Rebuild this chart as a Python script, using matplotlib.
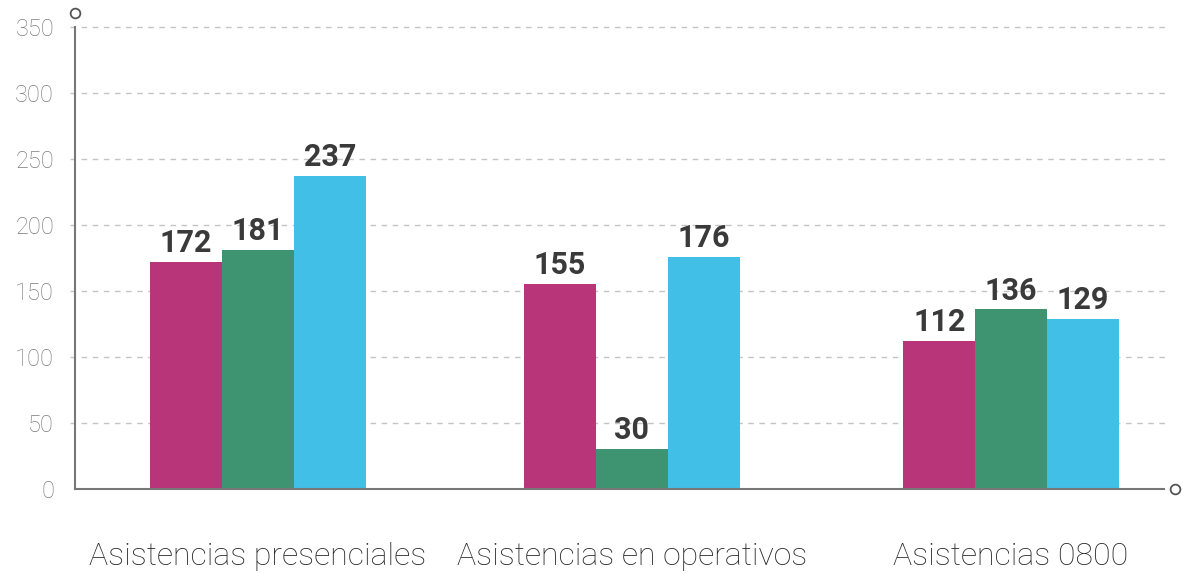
import matplotlib
matplotlib.use('Agg')
import matplotlib.pyplot as plt
import numpy as np

categorias = ['Asistencias presenciales', 'Asistencias en operativos', 'Asistencias 0800']
serie_a = [172, 155, 112]
serie_b = [181, 30, 136]
serie_c = [237, 176, 129]
colores = ['#B8357A', '#3E9470', '#42BFE6']
y_ticks = [0, 50, 100, 150, 200, 250, 300, 350]

plt.rcParams['font.family'] = ['Roboto', 'DejaVu Sans']

fig = plt.figure(figsize=(11.83, 5.73), dpi=100)
ax = fig.add_axes([75 / 1183, 84 / 573, (1164 - 75) / 1183, (489 - 27) / 573])

x = np.array([0, 0.993, 2.0])
ancho = 0.191
for k, (serie, color) in enumerate(zip([serie_a, serie_b, serie_c], colores)):
    pos = x + (k - 1) * ancho
    ax.bar(pos, serie, width=ancho, color=color, zorder=3)
    for p, v in zip(pos, serie):
        ax.text(p, v + 3, str(v), ha='center', va='bottom', fontsize=22,
                fontweight='bold', color='#3a3a3a', zorder=4)

ax.set_xlim(-0.486, 2.406)
ax.set_ylim(0, 350)
ax.set_yticks(y_ticks)
ax.set_yticklabels([str(t) for t in y_ticks], fontsize=17, color='#7c7c7c',
                   fontweight='light')
ax.tick_params(axis='y', length=0, pad=15)
ax.set_xticks(x)
ax.set_xticklabels(categorias, fontsize=23, color='#262626', fontweight='light')
ax.tick_params(axis='x', length=0, pad=38)

for t in y_ticks[1:]:
    ax.plot([-0.5, 2.42], [t, t], color='#c4c4c4', lw=1, ls=(0, (4, 4)),
            clip_on=False, zorder=1)

for s in ['top', 'right']:
    ax.spines[s].set_visible(False)
ax.spines['left'].set_color('#777777')
ax.spines['bottom'].set_color('#777777')
ax.spines['left'].set_linewidth(1.5)
ax.spines['bottom'].set_linewidth(1.5)
ax.spines['left'].set_zorder(5)
ax.spines['bottom'].set_zorder(5)

# circulitos al final de los ejes
ax.plot([-0.486], [360.5], marker='o', ms=7, mfc='white', mec='#555555',
        mew=1.3, clip_on=False, zorder=6)
ax.plot([2.435], [0], marker='o', ms=7, mfc='white', mec='#555555',
        mew=1.3, clip_on=False, zorder=6)

fig.savefig('out.png', dpi=100)
